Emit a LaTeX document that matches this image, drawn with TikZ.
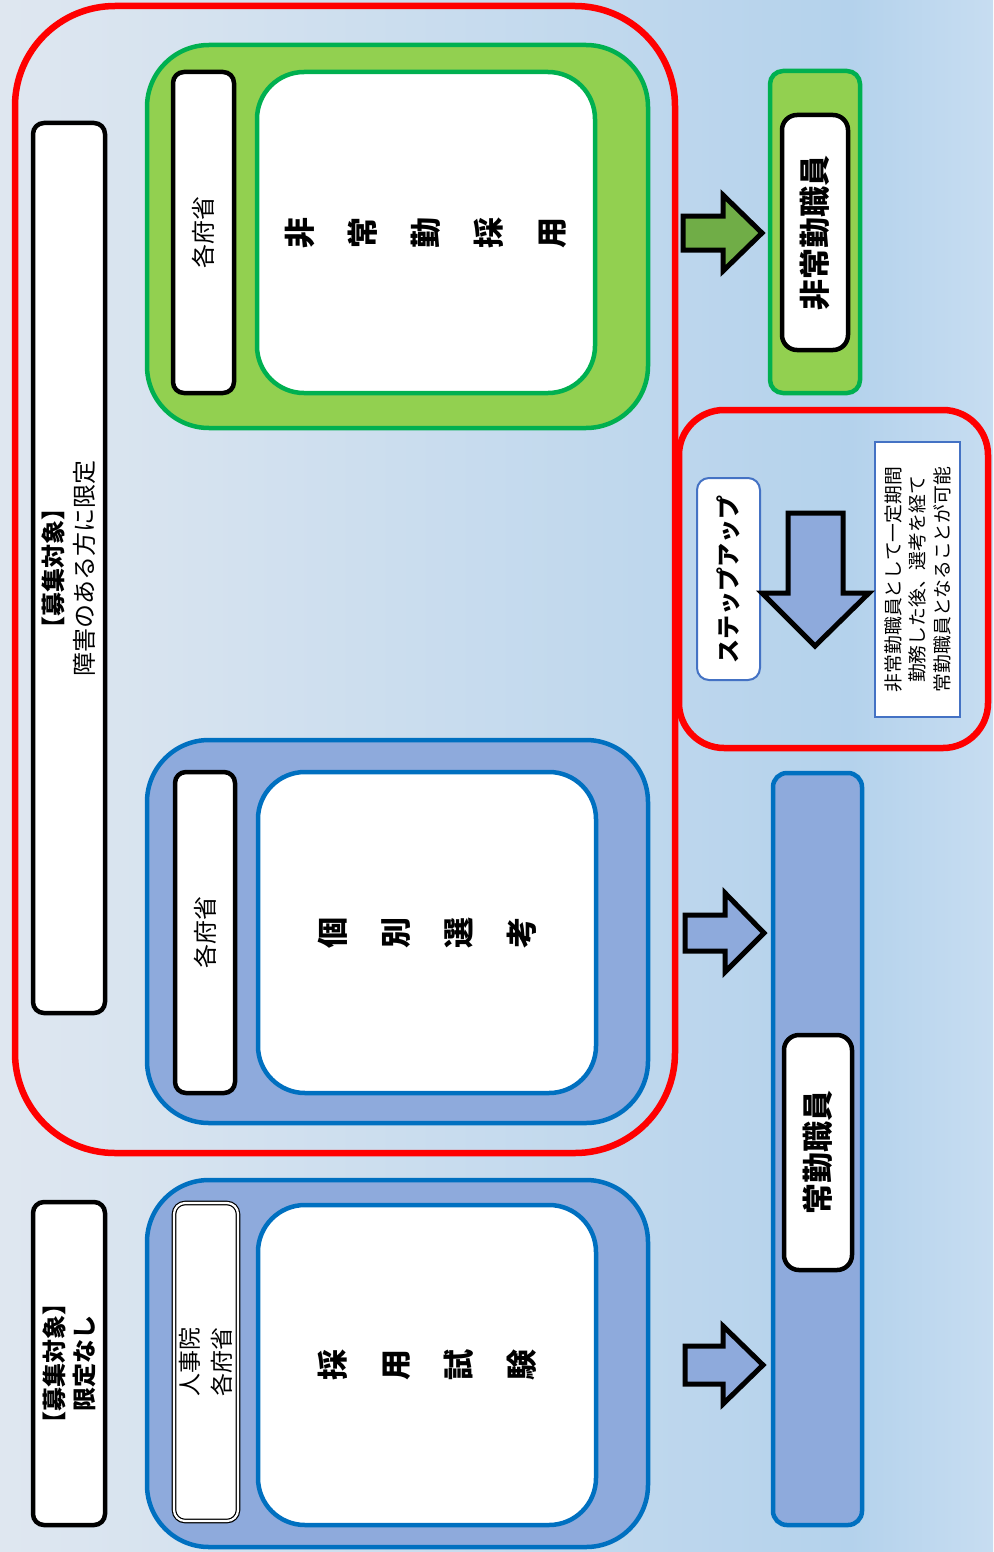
\documentclass[tikz,border=0pt]{standalone}
\usepackage{fontspec}
\setmainfont{Noto Sans CJK JP}
\definecolor{bgA}{HTML}{DFE7F0}
\definecolor{bgB}{HTML}{B4D2EC}
\definecolor{bgC}{HTML}{C7DDF1}
\definecolor{gfill}{HTML}{92D050}
\definecolor{gline}{HTML}{00B050}
\definecolor{garrow}{HTML}{70AD47}
\definecolor{bfill}{HTML}{8EAADC}
\definecolor{bline}{HTML}{0070C0}
\definecolor{sline}{HTML}{4472C4}
\definecolor{redl}{HTML}{FF0000}
\tikzset{
  box/.style={rectangle, inner sep=0pt, outer sep=0pt},
  redframe/.style={box, draw=redl, line width=6.5pt},
  blackbox/.style={box, draw=black, fill=white, line width=4.5pt, rounded corners=11pt},
  greengrp/.style={box, draw=gline, fill=gfill, line width=4.5pt, rounded corners=62pt},
  bluegrp/.style={box, draw=bline, fill=bfill, line width=4.5pt, rounded corners=62pt},
  greenwhite/.style={box, draw=gline, fill=white, line width=4.5pt, rounded corners=47pt},
  bluewhite/.style={box, draw=bline, fill=white, line width=4.5pt, rounded corners=47pt},
  thinbox/.style={box, draw=sline, fill=white, line width=2pt},
  blockarrow/.style={draw=black, line width=5pt, line join=miter},
  vtext/.style={rotate=90, align=center, inner sep=0pt},
}
\begin{document}
\begin{tikzpicture}[x=1pt,y=-1pt]
\useasboundingbox (0,0) rectangle (993,1552);
\shade[left color=bgA, right color=bgB] (0,0) rectangle (850,1552);
\shade[left color=bgB, right color=bgC] (850,0) rectangle (993,1552);

% red frames
\node[redframe, rounded corners=100pt, minimum width=660pt, minimum height=1147pt] (bigred) at (345,579.5) {};
\node[redframe, rounded corners=45pt, minimum width=309pt, minimum height=338pt] (smallred) at (833.5,579) {};

% recruitment target boxes
\node[blackbox, minimum width=72pt, minimum height=890pt] (tgtA) at (69,568) {};
\node[vtext, font=\fontsize{24}{31}\selectfont] (tgtAt) at (tgtA.center) {\textbf{【募集対象】}\\障害のある方に限定};
\node[blackbox, minimum width=72pt, minimum height=323pt] (tgtB) at (69,1363.5) {};
\node[vtext, font=\bfseries\fontsize{24}{30}\selectfont] (tgtBt) at (tgtB.center) {【募集対象】\\限定なし};

% green group
\node[greengrp, minimum width=501pt, minimum height=383pt] (ggrp) at (397.5,236.5) {};
\node[blackbox, minimum width=61pt, minimum height=321pt] (gorg) at (203.5,232.5) {};
\node[vtext, font=\fontsize{24}{30}\selectfont] (gorgt) at (gorg.center) {各府省};
\node[greenwhite, minimum width=338pt, minimum height=321pt] (gw) at (426,232.5) {};
\node[vtext, font=\bfseries\fontsize{31}{63}\selectfont] (gwt) at (gw.center) {非\\常\\勤\\採\\用};

% blue group 1
\node[bluegrp, minimum width=501pt, minimum height=383pt] (bgrp1) at (397.5,931.5) {};
\node[blackbox, minimum width=60pt, minimum height=321pt] (borg1) at (205,932.5) {};
\node[vtext, font=\fontsize{24}{30}\selectfont] (borg1t) at (borg1.center) {各府省};
\node[bluewhite, minimum width=338pt, minimum height=321pt] (bw1) at (427,932.5) {};
\node[vtext, font=\bfseries\fontsize{31}{63}\selectfont] (bw1t) at (bw1.center) {個\\別\\選\\考};

% blue group 2
\node[bluegrp, minimum width=501pt, minimum height=367pt] (bgrp2) at (397.5,1363.5) {};
\node[box, draw=black, fill=white, line width=1.2pt, double=white, double distance=2.2pt, rounded corners=11pt, minimum width=64pt, minimum height=318pt] (borg2) at (206,1362) {};
\node[vtext, font=\fontsize{23}{32}\selectfont] (borg2t) at (borg2.center) {人事院\\各府省};
\node[bluewhite, minimum width=338pt, minimum height=320pt] (bw2) at (427,1365) {};
\node[vtext, font=\bfseries\fontsize{31}{63}\selectfont] (bw2t) at (bw2.center) {採\\用\\試\\験};

% result: part-time staff
\node[box, draw=gline, fill=gfill, line width=4.5pt, rounded corners=13pt, minimum width=90pt, minimum height=322pt] (ptout) at (815,232) {};
\node[blackbox, rounded corners=15pt, minimum width=66pt, minimum height=235pt] (ptin) at (815,232.5) {};
\node[vtext, font=\bfseries\fontsize{31}{36}\selectfont] (ptint) at (ptin.center) {非常勤職員};

% result: full-time staff
\node[box, draw=bline, fill=bfill, line width=4.5pt, rounded corners=14pt, minimum width=89pt, minimum height=752pt] (ftout) at (817.5,1149) {};
\node[blackbox, rounded corners=15pt, minimum width=68pt, minimum height=235pt] (ftin) at (818,1152.5) {};
\node[vtext, font=\bfseries\fontsize{31}{36}\selectfont] (ftint) at (ftin.center) {常勤職員};

% step up
\node[thinbox, rounded corners=12pt, minimum width=63pt, minimum height=202pt] (step) at (728.5,579) {};
\node[vtext, font=\bfseries\fontsize{24}{30}\selectfont] (stept) at (step.center) {ステップアップ};
\node[thinbox, minimum width=85pt, minimum height=275pt] (desc) at (917.5,579.5) {};
\node[vtext, font=\fontsize{18.8}{24.5}\selectfont] (desct) at (desc.center) {非常勤職員として一定期間\\勤務した後、選考を経て\\常勤職員となることが可能};

% block arrows
\draw[blockarrow, fill=garrow] (683,216) -- (723,216) -- (723,195) -- (762,233) -- (723,271) -- (723,250) -- (683,250) -- cycle;
\draw[blockarrow, fill=bfill] (685,915) -- (725,915) -- (725,893) -- (764,933) -- (725,972) -- (725,951) -- (685,951) -- cycle;
\draw[blockarrow, fill=bfill] (685,1346) -- (723,1346) -- (723,1326) -- (763,1365) -- (723,1404) -- (723,1384) -- (685,1384) -- cycle;
\draw[blockarrow, fill=bfill] (788,513) -- (843,513) -- (843,593) -- (869,593) -- (815,646) -- (762,593) -- (788,593) -- cycle;
\end{tikzpicture}
\end{document}
